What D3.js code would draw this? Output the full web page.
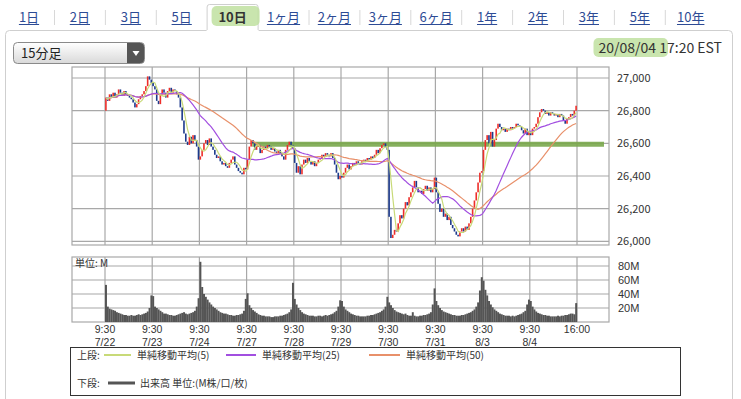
<!DOCTYPE html>
<html><head><meta charset="utf-8">
<script src="https://cdn.jsdelivr.net/npm/d3@7"></script>
<style>
html,body{margin:0;padding:0;background:#fff;}
svg{display:block;font-family:"Noto Sans CJK JP","Noto Sans",sans-serif;}
</style></head>
<body>
<script>
// ---------------- DATA ----------------
const tabLabels = ["1日","2日","3日","5日","10日","1ヶ月","2ヶ月","3ヶ月","6ヶ月","1年","2年","3年","5年","10年"];
const activeTab = "10日";
const intervalLabel = "15分足";
const timestampLabel = "20/08/04 17:20 EST";
const dayLabels = ["7/22","7/23","7/24","7/27","7/28","7/29","7/30","7/31","8/3","8/4"];
const timeLabels = ["9:30","9:30","9:30","9:30","9:30","9:30","9:30","9:30","9:30","9:30","16:00"];
const barsPerDay = 26;
const priceTicks = [26000, 26200, 26400, 26600, 26800, 27000];
const volumeTicks = [20, 40, 60, 80];
const firstOpen = 26800;
const supportLevel = 26595;

// 15-minute closes per day
const close0722 = [26880,26860,26900,26880,26910,26880,26900,26930,26910,26890,26920,26900,26890,26880,26870,26850,26820,26840,26870,26890,26900,26920,26950,27010,26990,26970];
const close0723 = [26950,26930,26860,26840,26900,26930,26910,26880,26920,26940,26910,26930,26920,26900,26880,26820,26740,26660,26610,26590,26640,26600,26650,26620,26580,26500];
const close0724 = [26520,26560,26600,26620,26590,26630,26580,26560,26530,26510,26520,26490,26470,26480,26460,26450,26480,26500,26520,26470,26450,26430,26420,26410,26450,26440];
const close0727 = [26500,26580,26620,26600,26560,26580,26590,26540,26560,26580,26570,26590,26580,26560,26570,26550,26540,26560,26540,26520,26500,26560,26590,26610,26590,26570];
const close0728 = [26480,26420,26460,26410,26470,26500,26480,26510,26490,26470,26490,26460,26480,26500,26510,26530,26520,26540,26530,26520,26540,26510,26470,26420,26380,26400];
const close0729 = [26390,26420,26450,26470,26440,26460,26480,26470,26490,26480,26470,26490,26500,26490,26510,26500,26520,26510,26530,26560,26540,26570,26590,26600,26580,26560];
const close0730 = [26150,26020,26040,26070,26060,26110,26160,26140,26200,26240,26220,26270,26300,26330,26370,26330,26300,26310,26290,26320,26340,26310,26330,26300,26320,26390];
const close0731 = [26300,26230,26180,26200,26150,26170,26130,26150,26100,26080,26060,26040,26030,26060,26080,26060,26090,26070,26110,26150,26200,26250,26300,26360,26420,26430];
const close0803 = [26560,26620,26650,26600,26670,26580,26620,26690,26720,26700,26680,26690,26670,26690,26680,26700,26690,26700,26720,26710,26700,26680,26660,26690,26650,26670];
const close0804 = [26650,26690,26700,26720,26760,26790,26810,26800,26780,26790,26770,26790,26780,26770,26780,26760,26780,26770,26740,26720,26750,26760,26780,26770,26800,26830];

// volume (M) per day
const vol0722 = [53,22,19,18,17,16,14,13,12,11,10,10,9,9,10,9,9,10,11,10,11,12,13,15,20,38];
const vol0723 = [37,22,20,18,16,14,12,12,11,10,10,9,9,10,11,12,13,14,12,11,12,13,14,16,22,34];
const vol0724 = [86,50,40,36,32,28,25,22,20,18,16,14,13,12,12,11,10,10,9,9,10,10,11,12,16,33];
const vol0727 = [41,24,20,17,15,13,11,10,9,9,8,8,8,7,7,8,8,8,9,9,10,11,12,14,18,56];
const vol0728 = [33,25,20,17,14,12,11,10,9,9,9,8,8,9,9,8,9,10,9,10,11,12,14,16,22,31];
const vol0729 = [30,22,18,16,14,12,11,10,9,9,8,8,8,8,9,9,10,10,11,12,13,14,16,18,22,36];
const vol0730 = [28,24,20,17,15,14,13,12,11,12,10,9,9,14,9,8,8,9,9,10,10,11,12,14,25,48];
const vol0731 = [30,24,20,17,15,14,13,12,11,10,10,9,9,9,10,10,11,12,13,14,16,18,22,28,45,64];
const vol0803 = [59,46,38,30,25,21,18,16,14,12,11,10,9,9,9,8,9,8,9,10,11,12,14,16,25,32];
const vol0804 = [30,22,18,15,13,12,11,10,10,9,9,8,8,8,8,9,8,9,9,10,10,11,12,12,11,27];

const legendUpper = [
  {label:"単純移動平均(5)", period:5, color:"#c8da78"},
  {label:"単純移動平均(25)", period:25, color:"#a24fe0"},
  {label:"単純移動平均(50)", period:50, color:"#e8906a"}
];
const legendLower = "出来高 単位:(M株/口/枚)";

// ---------------- BUILD ----------------
const closes = [].concat(close0722,close0723,close0724,close0727,close0728,close0729,close0730,close0731,close0803,close0804);
const volumes = [].concat(vol0722,vol0723,vol0724,vol0727,vol0728,vol0729,vol0730,vol0731,vol0803,vol0804);
const nBars = closes.length;
const bars = closes.map((c,i)=>{const o = i===0?firstOpen:closes[i-1];return {i,o,c,v:volumes[i]};});
function sma(p){return closes.map((c,i)=>{const s=Math.max(0,i-p+1);return d3.mean(closes.slice(s,i+1));});}

const W=741,H=399;
const svg=d3.select("body").append("svg").attr("width",W).attr("height",H);
const FONT='"Noto Sans CJK JP","Noto Sans",sans-serif';
const LFONT='"Liberation Sans",Arial,sans-serif';

// panel
svg.append("rect").attr("x",5.5).attr("y",30.5).attr("width",727).attr("height",400).attr("rx",4).attr("fill","#fff").attr("stroke","#cfcfcf");

// tabs
const tabC = k=>29+50.9*k;
const tabsG=svg.append("g");
tabLabels.forEach((t,k)=>{
  const cx=tabC(k);
  if(t===activeTab){
    tabsG.append("path").attr("d",`M${cx-25.5},31 V7 Q${cx-25.5},4.5 ${cx-23},4.5 H${cx+23} Q${cx+25.5},4.5 ${cx+25.5},7 V31`).attr("fill","#fff").attr("stroke","#cfcfcf");
    tabsG.append("rect").attr("x",cx-26).attr("y",30).attr("width",52).attr("height",2).attr("fill","#fff");
    tabsG.append("rect").attr("x",cx-21).attr("y",6).attr("width",48).attr("height",20).attr("rx",5).attr("fill","#bfe0a0").attr("opacity",0.85);
    tabsG.append("text").attr("x",cx).attr("y",22).attr("text-anchor","middle").attr("font-size",13).attr("font-weight","bold").attr("fill","#333").text(t);
  } else {
    const tx=tabsG.append("text").attr("x",cx).attr("y",22).attr("text-anchor","middle").attr("font-size",13).attr("fill","#2d4b95").text(t);
    const w=tx.node().getComputedTextLength();
    tabsG.append("line").attr("x1",cx-w/2).attr("x2",cx+w/2).attr("y1",24.5).attr("y2",24.5).attr("stroke","#2d4b95").attr("stroke-width",1);
  }
  if(k<tabLabels.length-1 && t!==activeTab && tabLabels[k+1]!==activeTab){
    tabsG.append("line").attr("x1",cx+25.5).attr("x2",cx+25.5).attr("y1",10).attr("y2",25).attr("stroke","#d8d8d8");
  }
});

// dropdown
const dd=svg.append("g");
const grad=svg.append("defs").append("linearGradient").attr("id","ddg").attr("x1",0).attr("y1",0).attr("x2",0).attr("y2",1);
grad.append("stop").attr("offset","0%").attr("stop-color","#ffffff");
grad.append("stop").attr("offset","100%").attr("stop-color","#d9d9d9");
dd.append("rect").attr("x",13.5).attr("y",42.5).attr("width",131).attr("height",21).attr("rx",4).attr("fill","url(#ddg)").attr("stroke","#8a8a8a");
dd.append("path").attr("d","M127,43 H140.5 Q144,43 144,46.5 V59.5 Q144,63 140.5,63 H127 Z").attr("fill","#555");
dd.append("path").attr("d","M132.5,51 L139.5,51 L136,56 Z").attr("fill","#fff");
dd.append("text").attr("x",21).attr("y",58).attr("font-size",13).attr("fill","#222").text(intervalLabel);

// timestamp
const tsG=svg.append("g");
const hl=tsG.append("rect").attr("y",38).attr("height",19).attr("rx",5).attr("fill","#bfe0a0").attr("opacity",0.85);
const ts=tsG.append("text").attr("x",722).attr("y",52.5).attr("text-anchor","end").attr("font-size",14).attr("fill","#333").attr("font-family",FONT).text(timestampLabel);
const tsW=ts.node().getComputedTextLength();
const probe=tsG.append("text").attr("font-size",14).attr("font-family",FONT).text(timestampLabel.slice(0,10));
const hlW=probe.node().getComputedTextLength();probe.remove();
hl.attr("x",722-tsW-5).attr("width",hlW+6);

// scales
const x=d3.scaleLinear().domain([0,nBars]).range([105,577]);
const y=d3.scaleLinear().domain([26000,27000]).range([241.3,78]);
const yv=d3.scaleLinear().domain([0,80]).range([322,266]);
const P={l:72,r:609,t:67,b:245};
const V={l:72,r:609,t:257,b:322};
const GRID="#a8a8a8";

// main grid
const g=svg.append("g");
g.append("rect").attr("x",P.l).attr("y",P.t).attr("width",P.r-P.l).attr("height",P.b-P.t).attr("fill","#fff").attr("stroke",GRID).attr("stroke-width",1.2);
priceTicks.forEach(v=>g.append("line").attr("x1",P.l).attr("x2",P.r).attr("y1",y(v)).attr("y2",y(v)).attr("stroke",GRID).attr("stroke-width",1.2));
d3.range(0,nBars+1,barsPerDay).forEach(i=>g.append("line").attr("x1",x(i)).attr("x2",x(i)).attr("y1",P.t).attr("y2",P.b).attr("stroke",GRID).attr("stroke-width",1.2));
const yAxis=d3.axisRight(y).tickValues(priceTicks).tickFormat(d3.format(",")).tickSize(0).tickPadding(0);
const ya=svg.append("g").attr("transform",`translate(617,0)`).call(yAxis);
ya.select(".domain").remove();
ya.selectAll("text").attr("font-size",11).attr("fill","#333").attr("font-family",FONT);

// support highlight line
g.append("line").attr("x1",x(80)+2).attr("x2",604).attr("y1",y(supportLevel)).attr("y2",y(supportLevel)).attr("stroke","#7aa84c").attr("stroke-width",5).attr("opacity",0.9);

// candles
const bw=1.6;
g.selectAll("rect.c").data(bars).join("rect").attr("class","c")
 .attr("x",d=>x(d.i+0.5)-bw/2).attr("width",bw)
 .attr("y",d=>y(Math.max(d.o,d.c)))
 .attr("height",d=>Math.max(1.2,Math.abs(y(d.o)-y(d.c))))
 .attr("fill",d=>d.c>=d.o?"#ee2e2a":"#1c3a8c");

// moving averages
legendUpper.slice().reverse().forEach(m=>{
  const vals=sma(m.period);
  g.append("path").datum(vals).attr("fill","none").attr("stroke",m.color).attr("stroke-width",1.2)
   .attr("d",d3.line().x((d,i)=>x(i+0.5)).y(d=>y(d)));
});

// volume panel
const vg=svg.append("g");
vg.append("rect").attr("x",V.l).attr("y",V.t).attr("width",V.r-V.l).attr("height",V.b-V.t).attr("fill","#fff").attr("stroke",GRID).attr("stroke-width",1.2);
volumeTicks.forEach(v=>vg.append("line").attr("x1",V.l).attr("x2",V.r).attr("y1",yv(v)).attr("y2",yv(v)).attr("stroke",GRID).attr("stroke-width",1.2));
d3.range(0,nBars+1,barsPerDay).forEach(i=>vg.append("line").attr("x1",x(i)).attr("x2",x(i)).attr("y1",V.t).attr("y2",V.b).attr("stroke",GRID).attr("stroke-width",1.2));
vg.selectAll("rect.v").data(bars).join("rect").attr("class","v")
 .attr("x",d=>x(d.i)).attr("width",x(1)-x(0)+0.15)
 .attr("y",d=>yv(d.v)).attr("height",d=>yv(0)-yv(d.v)).attr("fill","#555");
vg.append("text").attr("x",75).attr("y",267).attr("font-size",10).attr("fill","#333").text("単位: M");
const yvAxis=d3.axisRight(yv).tickValues(volumeTicks).tickFormat(d=>d+"M").tickSize(0).tickPadding(0);
const yva=svg.append("g").attr("transform",`translate(618,0)`).call(yvAxis);
yva.select(".domain").remove();
yva.selectAll("text").attr("font-size",11).attr("fill","#333").attr("font-family",LFONT);

// x labels
const xl=svg.append("g").attr("font-family",LFONT);
timeLabels.forEach((t,k)=>{
  const cx=x(k*barsPerDay);
  xl.append("text").attr("x",cx).attr("y",333).attr("text-anchor","middle").attr("font-size",10.5).attr("fill","#333").text(t);
  if(dayLabels[k]) xl.append("text").attr("x",cx).attr("y",345.5).attr("text-anchor","middle").attr("font-size",10.5).attr("fill","#333").text(dayLabels[k]);
});

// legend
const lg=svg.append("g");
lg.append("rect").attr("x",70.5).attr("y",347.5).attr("width",610).attr("height",48).attr("fill","#fff").attr("stroke","#333");
lg.append("text").attr("x",77).attr("y",359).attr("font-size",10).attr("fill","#333").text("上段:");
const lx=[[104,131,137],[226,256,262],[369,400,406]];
legendUpper.forEach((m,k)=>{
  lg.append("line").attr("x1",lx[k][0]).attr("x2",lx[k][1]).attr("y1",355).attr("y2",355).attr("stroke",m.color).attr("stroke-width",2);
  lg.append("text").attr("x",lx[k][2]).attr("y",359).attr("font-size",10).attr("fill","#333").text(m.label);
});
lg.append("text").attr("x",77).attr("y",387).attr("font-size",10).attr("fill","#333").text("下段:");
lg.append("line").attr("x1",108).attr("x2",135).attr("y1",383).attr("y2",383).attr("stroke","#555").attr("stroke-width",3);
lg.append("text").attr("x",140).attr("y",387).attr("font-size",10).attr("fill","#333").text(legendLower);
</script>
</body></html>
